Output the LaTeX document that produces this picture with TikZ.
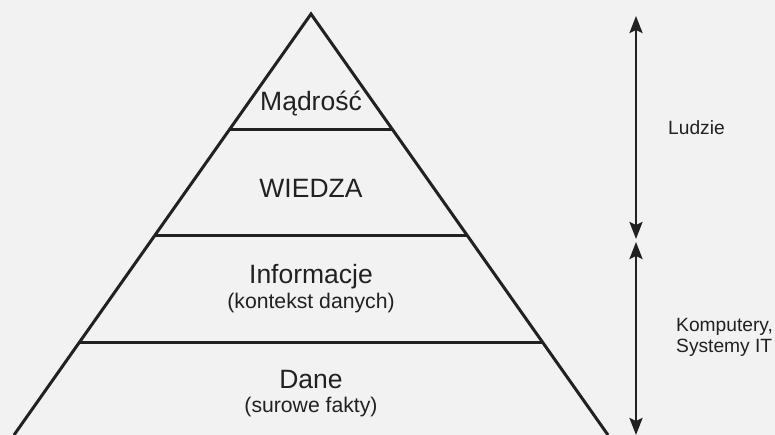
\documentclass[tikz,border=0pt]{standalone}
\usepackage{fontspec}
\setmainfont{Liberation Sans}
\usetikzlibrary{arrows.meta,calc}
\definecolor{paper}{gray}{0.95}
\definecolor{ink}{gray}{0.13}
\begin{document}
\begin{tikzpicture}[x=1pt,y=-1pt,
	level/.style={text=ink,font=\fontsize{26.5}{29}\selectfont},
	sublevel/.style={text=ink,font=\fontsize{21.2}{24}\selectfont},
	side/.style={text=ink,font=\fontsize{19.2}{21}\selectfont,align=left,anchor=west,inner sep=0pt},
	span/.style={ink,line width=2.4pt,{Stealth[length=17pt,width=13pt,inset=3pt]}-{Stealth[length=17pt,width=13pt,inset=3pt]}}]
	\fill[paper] (0,0) rectangle (775,435);
	\useasboundingbox (0,0) rectangle (775,435);
	\coordinate (apex) at (311,14);
	\coordinate (bl) at (14,435);
	\coordinate (br) at (608,435);
	\draw[ink,line width=3pt] (bl) -- (apex) -- (br);
	\foreach \t in {0.2755,0.5273,0.7791}
		\draw[ink,line width=3pt] ($(apex)!\t!(bl)$) -- ($(apex)!\t!(br)$);
	\node[level] (madrosc) at (311,104) {Mądrość};
	\node[level] (wiedza) at (311,188) {WIEDZA};
	\node[level] (informacje) at (311,277) {Informacje};
	\node[sublevel] (kontekst) at (311,303) {(kontekst danych)};
	\node[level] (dane) at (311,380) {Dane};
	\node[sublevel] (fakty) at (311,407) {(surowe fakty)};
	\coordinate (ludzieTop) at (636,16);
	\coordinate (ludzieBot) at (636,239);
	\coordinate (itTop) at (636,242);
	\coordinate (itBot) at (636,435);
	\draw[span] (ludzieTop) -- (ludzieBot);
	\draw[span] (itTop) -- (itBot);
	\node[side] (ludzie) at (668,128) {Ludzie};
	\node[side] (komputery) at (676,337) {Komputery,\\Systemy IT};
\end{tikzpicture}
\end{document}
